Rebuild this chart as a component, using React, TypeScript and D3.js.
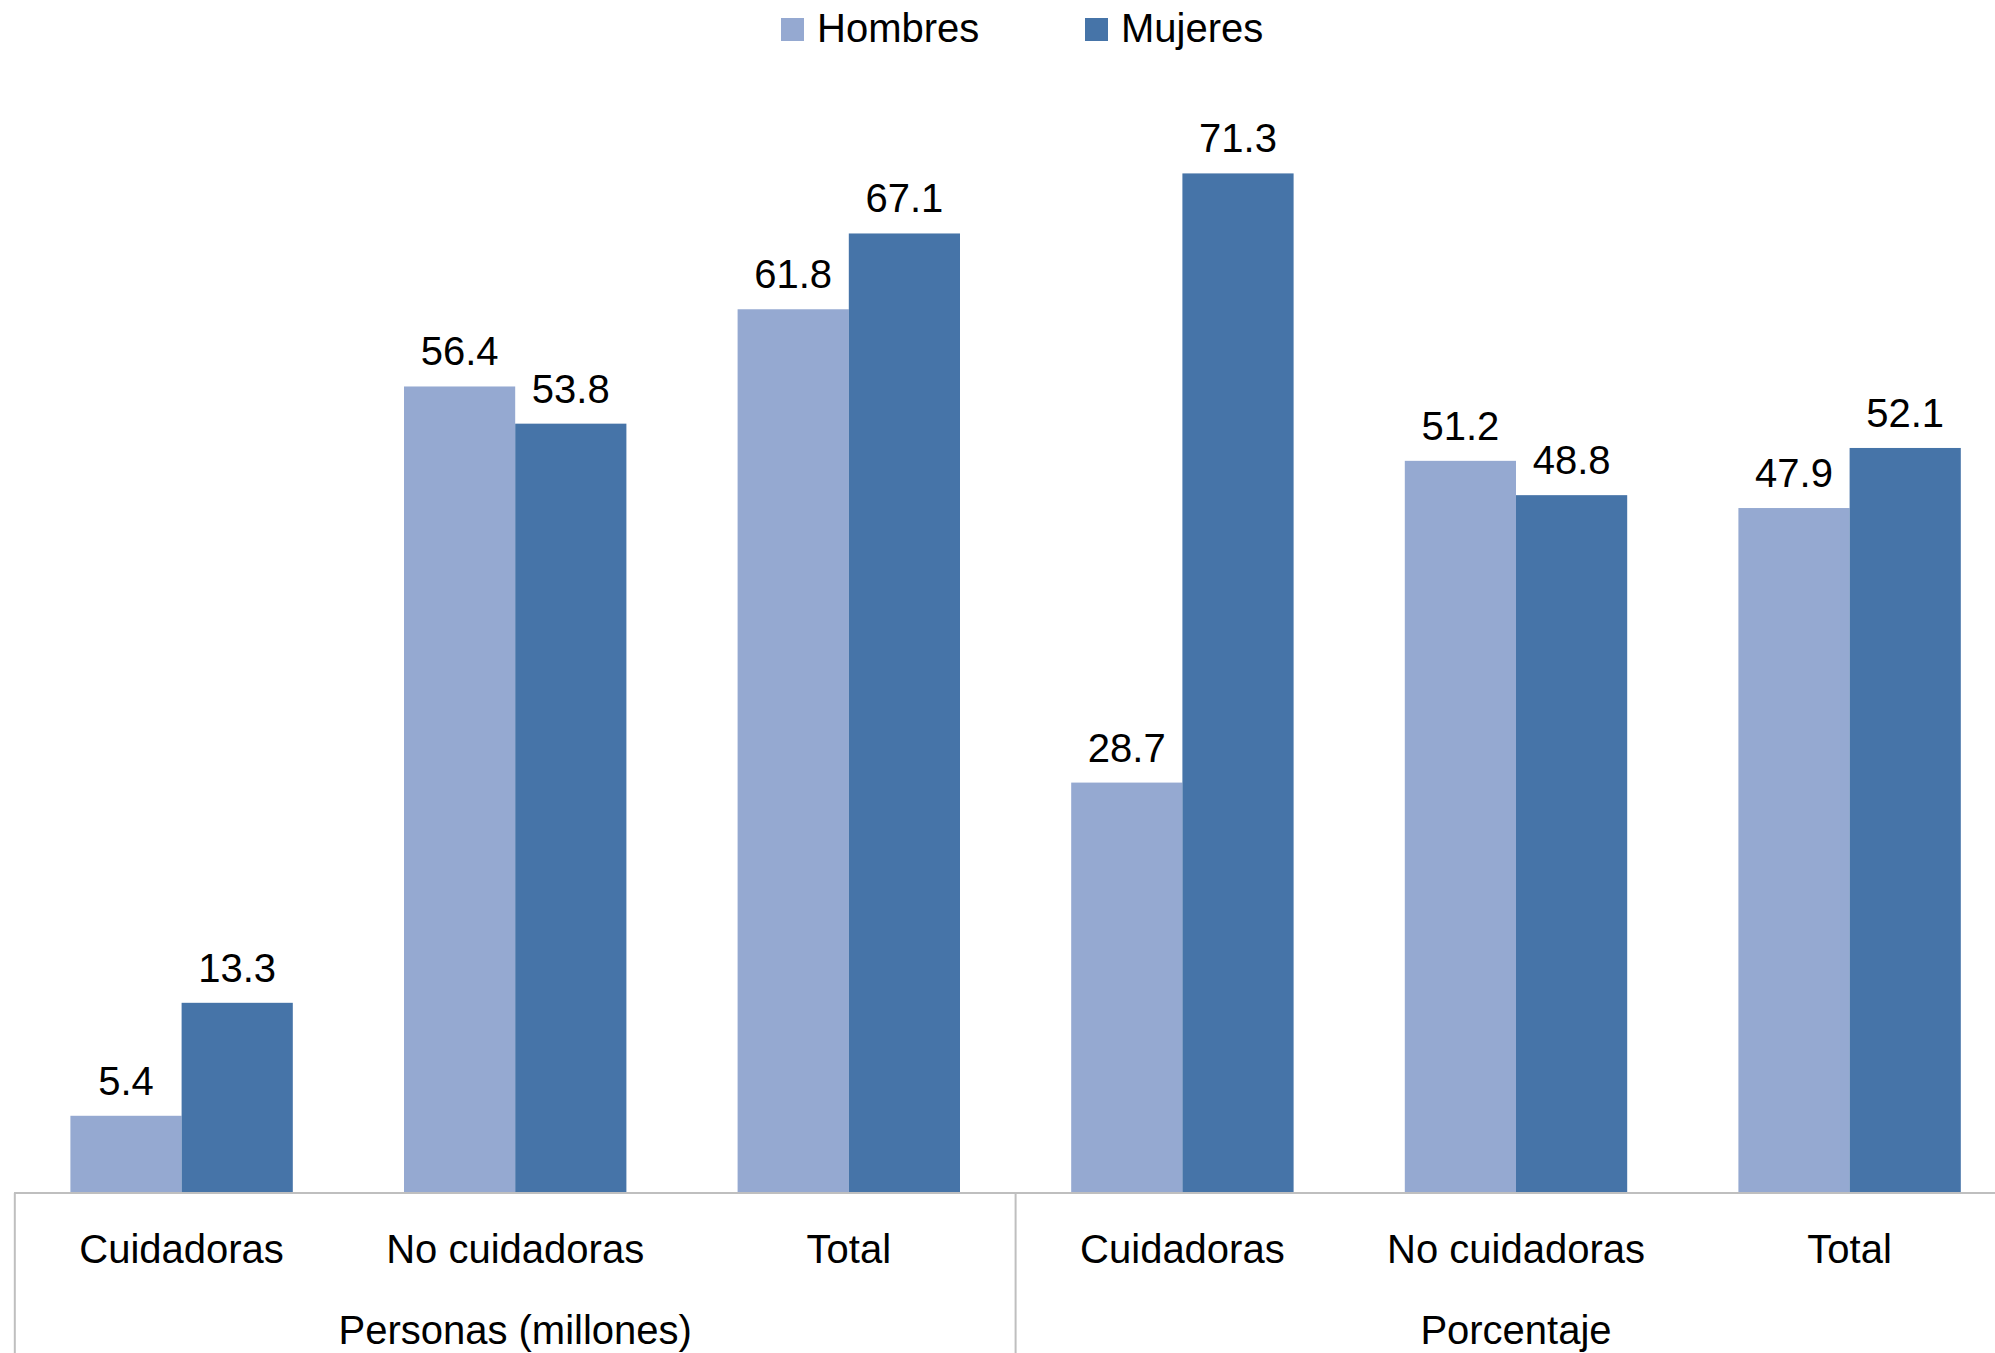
import * as d3 from 'd3'

const categories = ['Cuidadoras', 'No cuidadoras', 'Total', 'Cuidadoras', 'No cuidadoras', 'Total']
const groups = ['Personas (millones)', 'Porcentaje']
const hombres = [5.4, 56.4, 61.8, 28.7, 51.2, 47.9]
const mujeres = [13.3, 53.8, 67.1, 71.3, 48.8, 52.1]
const seriesNames = ['Hombres', 'Mujeres']
const colors = ['#95A9D1', '#4674A8']

const width = 1995
const height = 1353
const baseline = 1193
const font = '"Liberation Sans", Arial, sans-serif'

export default function App() {
  const keys = categories.map((_, i) => String(i))

  // categories run a bit past the right edge, like the cropped original
  const x = d3.scaleBand<string>()
    .domain(keys)
    .range([14.8, 2016.4])
    .padding(0)

  const xInner = d3.scaleBand<string>()
    .domain(seriesNames)
    .range([0, x.bandwidth()])
    .paddingInner(0)
    .paddingOuter(0.5)

  const y = d3.scaleLinear()
    .domain([0, 80])
    .range([baseline, baseline - 80 * 14.3])

  const series = [hombres, mujeres]
  const groupSize = categories.length / groups.length

  return (
    <svg
      width={width}
      height={height}
      style={{ position: 'absolute', left: 0, top: 0, background: '#fff' }}
      fontFamily={font}
    >
      {/* legend */}
      <g>
        <rect x={781} y={18} width={23} height={23} fill={colors[0]} />
        <text x={817} y={42} fontSize={40} fill="#000">{seriesNames[0]}</text>
        <rect x={1085} y={18} width={23} height={23} fill={colors[1]} />
        <text x={1121} y={42} fontSize={40} fill="#000">{seriesNames[1]}</text>
      </g>

      {/* bars */}
      {keys.map((k, i) => (
        <g key={k} transform={`translate(${x(k)},0)`}>
          {series.map((s, j) => {
            const bx = xInner(seriesNames[j]) ?? 0
            const by = y(s[i])
            return (
              <g key={j}>
                <rect
                  x={bx}
                  y={by}
                  width={xInner.bandwidth()}
                  height={baseline - by}
                  fill={colors[j]}
                />
                <text
                  x={bx + xInner.bandwidth() / 2}
                  y={by - 21}
                  textAnchor="middle"
                  fontSize={40}
                  fill="#000"
                >
                  {s[i].toFixed(1)}
                </text>
              </g>
            )
          })}
        </g>
      ))}

      {/* axis */}
      <line x1={14} x2={width} y1={baseline} y2={baseline} stroke="#BFBFBF" strokeWidth={2} />
      {groups.map((g, gi) => {
        const x0 = x(keys[gi * groupSize]) ?? 0
        const lastKey = keys[gi * groupSize + groupSize - 1]
        const x1 = (x(lastKey) ?? 0) + x.bandwidth()
        return (
          <g key={g}>
            <line x1={x0} x2={x0} y1={baseline} y2={height} stroke="#BFBFBF" strokeWidth={2} />
            <text x={(x0 + x1) / 2} y={1344} textAnchor="middle" fontSize={40} fill="#000">
              {g}
            </text>
          </g>
        )
      })}
      {keys.map((k, i) => (
        <text
          key={k}
          x={(x(k) ?? 0) + x.bandwidth() / 2}
          y={1263}
          textAnchor="middle"
          fontSize={40}
          fill="#000"
        >
          {categories[i]}
        </text>
      ))}
    </svg>
  )
}
